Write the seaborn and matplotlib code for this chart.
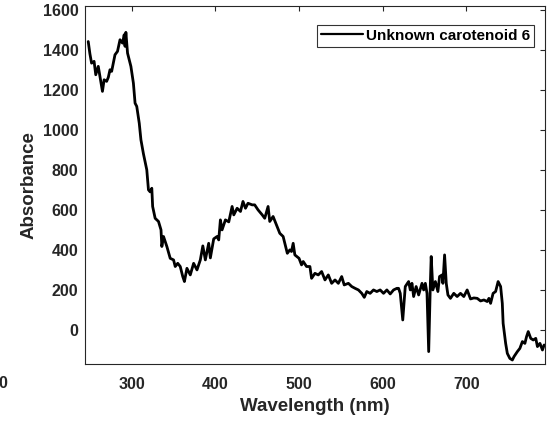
import matplotlib
matplotlib.use("Agg")
import matplotlib.pyplot as plt
import seaborn as sns
import pandas as pd

wavelength = [248, 250, 252, 255, 257, 260, 262, 265, 267, 270, 272, 274, 276, 280, 283, 286, 289, 291, 292, 293,
              295, 299, 302, 304, 306, 309, 311, 314, 318, 320, 322, 324, 325, 328, 332, 335, 336, 338, 342, 346,
              350, 352, 355, 358, 361, 363, 366, 370, 374, 378, 382, 385, 388, 392, 394, 396, 398, 402, 404, 406,
              408, 412, 416, 420, 422, 426, 430, 433, 436, 439, 444, 447, 451, 456, 459, 463, 465, 469, 473, 477,
              481, 486, 489, 491, 493, 495, 500, 503, 505, 509, 513, 515, 519, 523, 527, 531, 535, 539, 543, 547,
              551, 554, 559, 563, 567, 571, 575, 578, 581, 585, 589, 593, 597, 601, 605, 609, 613, 617, 619, 621,
              624, 627, 631, 633, 635, 637, 640, 643, 647, 649, 651, 653, 655, 657, 658, 660, 663, 666, 668, 671,
              672, 674, 676, 678, 681, 685, 689, 693, 697, 701, 705, 709, 713, 717, 721, 725, 727, 729, 732, 735,
              737, 738, 741, 743, 744, 747, 749, 752, 755, 757, 761, 764, 767, 770, 772, 774, 777, 780, 783, 785,
              788, 791, 793, 796]
absorbance = [1441, 1380, 1333, 1342, 1275, 1317, 1267, 1192, 1250, 1242, 1262, 1300, 1292, 1375, 1392, 1450, 1433, 1475, 1417, 1487,
              1383, 1317, 1233, 1133, 1117, 1033, 950, 880, 800, 700, 690, 708, 617, 558, 542, 500, 417, 467, 417, 358,
              350, 317, 333, 317, 267, 242, 308, 275, 333, 300, 350, 420, 350, 433, 360, 408, 455, 467, 450, 550,
              500, 550, 540, 617, 575, 608, 592, 642, 608, 633, 625, 625, 600, 575, 558, 617, 542, 567, 525, 483,
              467, 383, 400, 392, 433, 375, 358, 325, 342, 317, 317, 258, 283, 275, 292, 250, 275, 233, 250, 233,
              267, 225, 233, 217, 208, 200, 183, 163, 192, 183, 200, 192, 200, 183, 200, 180, 200, 208, 208, 183,
              50, 217, 242, 200, 233, 167, 217, 175, 233, 200, 233, 183, -108, 233, 367, 200, 242, 192, 267, 275,
              233, 375, 233, 175, 158, 183, 167, 183, 167, 200, 155, 160, 158, 145, 150, 142, 158, 133, 183, 192,
              225, 242, 217, 133, 33, -67, -117, -142, -150, -133, -108, -92, -58, -67, -33, -8, -42, -50, -42, -83,
              -67, -100, -75, -80]
series_name = "Unknown carotenoid 6"
x_ticks = [300, 400, 500, 600, 700]
y_ticks = [0, 200, 400, 600, 800, 1000, 1200, 1400, 1600]

sns.set_theme(style="white")
plt.rcParams['font.family'] = ['Liberation Sans', 'DejaVu Sans']
plt.rcParams['font.weight'] = 'bold'

df = pd.DataFrame({"Wavelength": wavelength, "Absorbance": absorbance, "series": series_name})

fig = plt.figure(figsize=(5.57, 4.23), dpi=100)
ax = fig.add_axes([85.3 / 557, 1 - 364 / 423, (545.3 - 85.3) / 557, (364 - 5.7) / 423])

sns.lineplot(data=df, x="Wavelength", y="Absorbance", hue="series", palette=["black"],
             estimator=None, sort=False, linewidth=2.0, ax=ax)

gray = "#262626"
ax.set_xlim(244.5, 794.4)
ax.set_ylim(-170, 1620)
ax.set_xticks(x_ticks)
ax.set_yticks(y_ticks)
ax.tick_params(axis="both", direction="in", length=3.5, width=0.8, colors=gray,
               labelsize=11.5, top=True, right=True)
ax.tick_params(axis="x", pad=9)
ax.tick_params(axis="y", pad=5)
for lab in ax.get_xticklabels() + ax.get_yticklabels():
    lab.set_fontweight("bold")
for s in ax.spines.values():
    s.set_color(gray)
    s.set_linewidth(0.8)
    s.set_visible(True)

ax.set_xlabel("Wavelength (nm)", fontsize=13.5, fontweight="bold", color=gray, labelpad=5)
ax.set_ylabel("Absorbance", fontsize=13.5, fontweight="bold", color=gray, labelpad=4)

leg = ax.legend(loc="upper right", bbox_to_anchor=(534.3 / 557, 1 - 25 / 423),
                bbox_transform=fig.transFigure, borderaxespad=0, frameon=True,
                fancybox=False, borderpad=0.25, handlelength=2.8, handletextpad=0.2,
                prop={"size": 11, "weight": "bold"})
leg.get_frame().set_edgecolor("black")
leg.get_frame().set_linewidth(0.8)
for t in leg.get_texts():
    t.set_color("black")
for h in leg.get_lines():
    h.set_linewidth(1.6)

# partial label from a neighbouring panel at the far left
fig.text(7.5 / 557, 1 - 383 / 423, "0", ha="right", va="center", fontsize=11.5,
         fontweight="bold", color=gray)

fig.savefig("out.png", dpi=100)
